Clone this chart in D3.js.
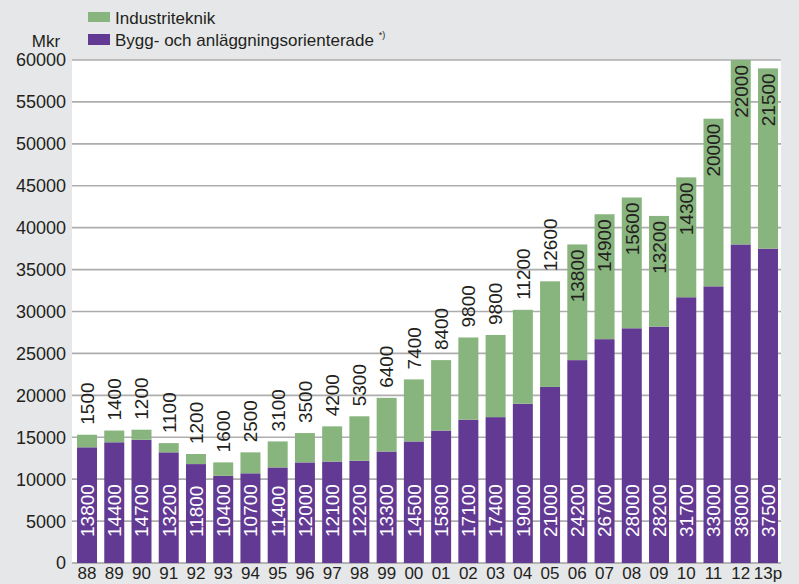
<!DOCTYPE html>
<html>
<head>
<meta charset="utf-8">
<script src="https://cdn.jsdelivr.net/npm/d3@7"></script>
<style>
  html, body { margin: 0; padding: 0; background: #e6e7e9; }
  svg { display: block; font-family: "Liberation Sans", Arial, Helvetica, sans-serif; }
</style>
</head>
<body>
<div id="chart"></div>
<script>
// Years (x categories)
const years = ['88', '89', '90', '91', '92', '93', '94', '95', '96', '97', '98', '99',
  '00', '01', '02', '03', '04', '05', '06', '07', '08', '09', '10', '11', '12', '13p'];

// Bygg- och anläggningsorienterade (Mkr)
const bygg = [13800, 14400, 14700, 13200, 11800, 10400, 10700, 11400, 12000, 12100, 12200, 13300,
  14500, 15800, 17100, 17400, 19000, 21000, 24200, 26700, 28000, 28200, 31700, 33000, 38000, 37500];

// Industriteknik (Mkr)
const industri = [1500, 1400, 1200, 1100, 1200, 1600, 2500, 3100, 3500, 4200, 5300, 6400,
  7400, 8400, 9800, 9800, 11200, 12600, 13800, 14900, 15600, 13200, 14300, 20000, 22000, 21500];

const yTicks = [0, 5000, 10000, 15000, 20000, 25000, 30000, 35000, 40000, 45000, 50000, 55000, 60000];

const PURPLE = '#633a93';
const GREEN = '#88b47d';
const GRID = '#adadad';
const INK = '#231f20';

const width = 799, height = 584;
const plot = { left: 72, right: 781, top: 60, bottom: 563 };

const svg = d3.select('#chart').append('svg')
  .attr('width', width)
  .attr('height', height);

svg.append('rect')
  .attr('width', width).attr('height', height)
  .attr('fill', '#e6e7e9');

svg.append('rect')
  .attr('x', plot.left).attr('y', plot.top)
  .attr('width', plot.right - plot.left).attr('height', plot.bottom - plot.top)
  .attr('fill', '#fff');

const x = d3.scaleBand()
  .domain(years)
  .range([plot.left + 1.4, plot.right + 0.6])
  .paddingInner(0.266)
  .paddingOuter(0.133);

const y = d3.scaleLinear()
  .domain([0, 60000])
  .range([plot.bottom, plot.top]);

// gridlines
svg.append('g')
  .selectAll('line')
  .data(yTicks)
  .join('line')
  .attr('x1', plot.left)
  .attr('x2', plot.right)
  .attr('y1', d => y(d))
  .attr('y2', d => y(d))
  .attr('stroke', d => d === 0 ? '#a0a0a0' : GRID)
  .attr('stroke-width', 1.6);

// y tick labels
svg.append('g')
  .selectAll('text')
  .data(yTicks)
  .join('text')
  .attr('x', 66)
  .attr('y', d => y(d))
  .attr('dy', '0.36em')
  .attr('text-anchor', 'end')
  .attr('font-size', 18)
  .attr('fill', INK)
  .text(d => d);

svg.append('text')
  .attr('x', 46)
  .attr('y', 47)
  .attr('text-anchor', 'middle')
  .attr('font-size', 17)
  .attr('fill', INK)
  .text('Mkr');

const rows = years.map((yr, i) => ({ yr, bygg: bygg[i], industri: industri[i], total: bygg[i] + industri[i] }));

const bars = svg.append('g');

bars.selectAll('rect.bygg')
  .data(rows)
  .join('rect')
  .attr('class', 'bygg')
  .attr('x', d => x(d.yr))
  .attr('width', x.bandwidth())
  .attr('y', d => y(d.bygg))
  .attr('height', d => y(0) - y(d.bygg))
  .attr('fill', PURPLE);

bars.selectAll('rect.ind')
  .data(rows)
  .join('rect')
  .attr('class', 'ind')
  .attr('x', d => x(d.yr))
  .attr('width', x.bandwidth())
  .attr('y', d => y(d.total))
  .attr('height', d => y(d.bygg) - y(d.total))
  .attr('fill', GREEN);

// white labels in the purple part, reading upwards from the bottom
svg.append('g')
  .selectAll('text')
  .data(rows)
  .join('text')
  .attr('transform', d => `translate(${x(d.yr) + x.bandwidth() / 2},${y(0) - 26}) rotate(-90)`)
  .attr('dy', '0.36em')
  .attr('text-anchor', 'start')
  .attr('font-size', 19)
  .attr('fill', '#fff')
  .text(d => d.bygg);

// industriteknik labels: above the bar, or inside its top when the bar is tall
const inside = d => d.total > 35000;
svg.append('g')
  .selectAll('text')
  .data(rows)
  .join('text')
  .attr('transform', d => inside(d)
    ? `translate(${x(d.yr) + x.bandwidth() / 2},${y(d.total) + 5}) rotate(-90)`
    : `translate(${x(d.yr) + x.bandwidth() / 2},${y(d.total) - 10}) rotate(-90)`)
  .attr('dy', '0.36em')
  .attr('text-anchor', d => inside(d) ? 'end' : 'start')
  .attr('font-size', 19)
  .attr('fill', INK)
  .text(d => d.industri);

// x labels
svg.append('g')
  .selectAll('text')
  .data(years)
  .join('text')
  .attr('x', d => x(d) + x.bandwidth() / 2)
  .attr('y', 579)
  .attr('text-anchor', 'middle')
  .attr('font-size', 17)
  .attr('fill', INK)
  .text(d => d);

// legend
const legend = svg.append('g');
legend.append('rect').attr('x', 88).attr('y', 12).attr('width', 22).attr('height', 10).attr('fill', GREEN);
legend.append('text').attr('x', 115).attr('y', 24).attr('font-size', 17).attr('fill', INK).text('Industriteknik');
legend.append('rect').attr('x', 88).attr('y', 34).attr('width', 22).attr('height', 11).attr('fill', PURPLE);
const lt = legend.append('text').attr('x', 115).attr('y', 46).attr('font-size', 17).attr('fill', INK);
lt.append('tspan').text('Bygg- och anläggningsorienterade ');
lt.append('tspan').attr('font-size', 9).attr('dy', -8).text('*)');
</script>
</body>
</html>
